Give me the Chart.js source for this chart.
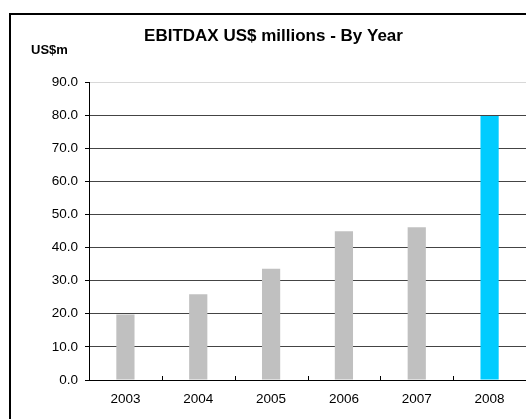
<!DOCTYPE html>
<html>
<head>
<meta charset="utf-8">
<script src="https://cdn.jsdelivr.net/npm/chart.js@4.4.1/dist/chart.umd.min.js"></script>
<style>
  html, body { margin:0; padding:0; background:#fff; overflow:hidden; }
  #wrap { position:absolute; left:0; top:0; width:526px; height:419px; }
  #frame { position:absolute; left:9px; top:13px; width:600px; height:500px; border-left:2px solid #000; border-top:2px solid #000; box-sizing:border-box; }
  #unit { position:absolute; left:31px; top:42px; font:bold 13px "Liberation Sans", Arial, sans-serif; color:#000; }
  canvas { position:absolute; left:0; top:0; }
</style>
</head>
<body>
<div id="wrap">
  <div id="frame"></div>
  <canvas id="c" width="526" height="419"></canvas>
  <div id="unit">US$m</div>
</div>
<script>
const categories = ['2003', '2004', '2005', '2006', '2007', '2008'];
const ebitdax = [19.8, 25.9, 33.6, 44.9, 46.1, 79.7];
const barColors = ['#C0C0C0', '#C0C0C0', '#C0C0C0', '#C0C0C0', '#C0C0C0', '#00CCFF'];
const yTicks = [0, 10, 20, 30, 40, 50, 60, 70, 80, 90];

const FONT = '"Liberation Sans", Arial, sans-serif';

const innerTicks = {
  id: 'innerTicks',
  afterDraw(chart) {
    const x = chart.scales.x, ctx = chart.ctx, bottom = chart.chartArea.bottom;
    const step = x.getPixelForValue(1) - x.getPixelForValue(0);
    ctx.save();
    ctx.strokeStyle = '#000';
    ctx.lineWidth = 1;
    for (let i = 0; i < categories.length; i++) {
      const p = x.getPixelForValue(i) + step / 2;
      ctx.beginPath();
      ctx.moveTo(Math.round(p) + 0.5, bottom - 4);
      ctx.lineTo(Math.round(p) + 0.5, bottom);
      ctx.stroke();
    }
    ctx.restore();
  }
};

new Chart(document.getElementById('c'), {
  type: 'bar',
  data: {
    labels: categories,
    datasets: [{
      data: ebitdax,
      backgroundColor: barColors,
      borderWidth: 0,
      barPercentage: 0.25,
      categoryPercentage: 1.0
    }]
  },
  options: {
    responsive: false,
    animation: false,
    devicePixelRatio: 1,
    layout: { padding: { left: 21, right: 0, top: 0, bottom: 0 } },
    plugins: {
      legend: { display: false },
      tooltip: { enabled: false },
      title: {
        display: true,
        text: 'EBITDAX US$ millions - By Year',
        color: '#000',
        font: { family: FONT, size: 17, weight: 'bold' },
        padding: { top: 26, bottom: 35.6 }
      }
    },
    scales: {
      x: {
        grid: { display: true, drawOnChartArea: false, drawTicks: false, offset: true },
        border: { display: true, color: '#000', width: 1 },
        ticks: { color: '#000', font: { family: FONT, size: 13.5 }, padding: 11, maxRotation: 0 },
        afterFit(s) { s.height = 39; }
      },
      y: {
        min: 0, max: 90,
        afterBuildTicks(s) { s.ticks = yTicks.map(v => ({ value: v })); },
        grid: {
          color: ctx => (ctx.tick && ctx.tick.value === 90) ? '#d8d8d8' : '#444',
          tickColor: '#000',
          tickLength: 4,
          lineWidth: 1
        },
        border: { display: true, color: '#000', width: 1 },
        ticks: {
          color: '#000',
          font: { family: FONT, size: 13.5 },
          padding: 7,
          callback: v => Number(v).toFixed(1)
        },
        afterFit(s) { s.width = 68; }
      }
    }
  },
  plugins: [innerTicks]
});
</script>
</body>
</html>
